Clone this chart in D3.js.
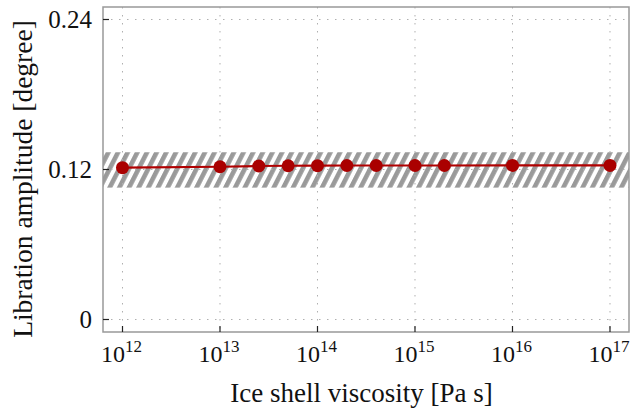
<!DOCTYPE html>
<html>
<head>
<meta charset="utf-8">
<script src="https://cdn.jsdelivr.net/npm/d3@7"></script>
<style>
  body { margin: 0; background: #fff; }
</style>
</head>
<body>
<svg id="chart" width="632" height="412"></svg>
<script>
// viscosity [Pa s] and libration amplitude [degree]
var viscosity = [1e12, 1e13, 2.5e13, 5e13, 1e14, 2e14, 4e14, 1e15, 2e15, 1e16, 1e17];
var amplitude = [0.1215, 0.1222, 0.1228, 0.1230, 0.1231, 0.1232, 0.1232, 0.1232, 0.1232, 0.1233, 0.1233];
// observed range (hatched band)
var bandRange = [0.1055, 0.1338];
var xTickExp = [12, 13, 14, 15, 16, 17];
var yTicks = [0, 0.12, 0.24];
var yTickLabels = ["0", "0.12", "0.24"];

var LEFT = 103, RIGHT = 629, TOP = 7, BOTTOM = 332;
var lineColor = "#b00000";
var dotColor = "#aa0000";
var FONT = "'Liberation Serif'";

var svg = d3.select("#chart");

var xScale = d3.scaleLog()
  .domain([Math.pow(10, 11.8), Math.pow(10, 17.195)])
  .range([LEFT, RIGHT]);
var yScale = d3.scaleLinear()
  .domain([-0.01, 0.25])
  .range([BOTTOM, TOP]);

// hatch pattern
var defs = svg.append("defs");
var pat = defs.append("pattern")
  .attr("id", "hatch")
  .attr("patternUnits", "userSpaceOnUse")
  .attr("width", 8.6).attr("height", 20)
  .attr("patternTransform", "rotate(27)");
pat.append("rect").attr("width", 8.6).attr("height", 20).attr("fill", "#fff");
pat.append("rect").attr("x", 0).attr("width", 4.6).attr("height", 20).attr("fill", "#9a9a9a");

// band
svg.append("rect")
  .attr("x", LEFT)
  .attr("width", RIGHT - LEFT)
  .attr("y", yScale(bandRange[1]))
  .attr("height", yScale(bandRange[0]) - yScale(bandRange[1]))
  .attr("fill", "url(#hatch)");

// grid
var grid = svg.append("g").attr("stroke", "#b0b0b0").attr("stroke-width", 1)
  .attr("stroke-dasharray", "1.5,6.5");
grid.selectAll("line.gx").data(xTickExp).enter().append("line")
  .attr("x1", function(d){ return xScale(Math.pow(10, d)); })
  .attr("x2", function(d){ return xScale(Math.pow(10, d)); })
  .attr("y1", TOP).attr("y2", BOTTOM);
grid.selectAll("line.gy").data(yTicks).enter().append("line")
  .attr("y1", function(d){ return yScale(d); })
  .attr("y2", function(d){ return yScale(d); })
  .attr("x1", LEFT).attr("x2", RIGHT);

// line + markers
var line = d3.line()
  .x(function(d){ return xScale(d[0]); })
  .y(function(d){ return yScale(d[1]); });
var pts = viscosity.map(function(v, i){ return [v, amplitude[i]]; });

svg.append("path")
  .datum(pts)
  .attr("d", line)
  .attr("fill", "none")
  .attr("stroke", lineColor)
  .attr("stroke-width", 2.2);

svg.selectAll("circle").data(pts).enter().append("circle")
  .attr("cx", function(d){ return xScale(d[0]); })
  .attr("cy", function(d){ return yScale(d[1]); })
  .attr("r", 6.5)
  .attr("fill", dotColor);

// frame
svg.append("rect")
  .attr("x", LEFT).attr("y", TOP)
  .attr("width", RIGHT - LEFT).attr("height", BOTTOM - TOP)
  .attr("fill", "none").attr("stroke", "#999").attr("stroke-width", 1.5);

// ticks (inward)
var ticks = svg.append("g").attr("stroke", "#222").attr("stroke-width", 1.2);
ticks.selectAll("line.tx").data(xTickExp).enter().append("line")
  .attr("x1", function(d){ return xScale(Math.pow(10, d)); })
  .attr("x2", function(d){ return xScale(Math.pow(10, d)); })
  .attr("y1", BOTTOM).attr("y2", BOTTOM - 6);
ticks.selectAll("line.ty").data(yTicks).enter().append("line")
  .attr("y1", function(d){ return yScale(d); })
  .attr("y2", function(d){ return yScale(d); })
  .attr("x1", LEFT).attr("x2", LEFT + 6);

// x tick labels
var xl = svg.selectAll("text.xl").data(xTickExp).enter().append("text")
  .attr("class", "xl")
  .attr("x", function(d){ return xScale(Math.pow(10, d)) - 1; })
  .attr("y", 362)
  .attr("text-anchor", "middle")
  .style("font-family", FONT)
  .style("fill", "#111")
  .style("font-size", "24px");
xl.append("tspan").text("10");
xl.append("tspan").attr("dy", -10).style("font-size", "17px").text(function(d){ return d; });

// y tick labels
svg.selectAll("text.yl").data(yTicks).enter().append("text")
  .attr("class", "yl")
  .attr("x", 92)
  .attr("y", function(d){ return yScale(d) + 8; })
  .attr("text-anchor", "end")
  .style("font-family", FONT)
  .style("fill", "#111")
  .style("font-size", "25px")
  .text(function(d, i){ return yTickLabels[i]; });

// axis titles
svg.append("text")
  .attr("x", 361.5)
  .attr("y", 402)
  .attr("text-anchor", "middle")
  .style("font-family", FONT)
  .style("fill", "#111")
  .style("font-size", "27px")
  .text("Ice shell viscosity [Pa s]");

svg.append("text")
  .attr("transform", "translate(32," + 179 + ") rotate(-90)")
  .attr("text-anchor", "middle")
  .style("font-family", FONT)
  .style("fill", "#111")
  .style("font-size", "27.5px")
  .text("Libration amplitude [degree]");
</script>
</body>
</html>
